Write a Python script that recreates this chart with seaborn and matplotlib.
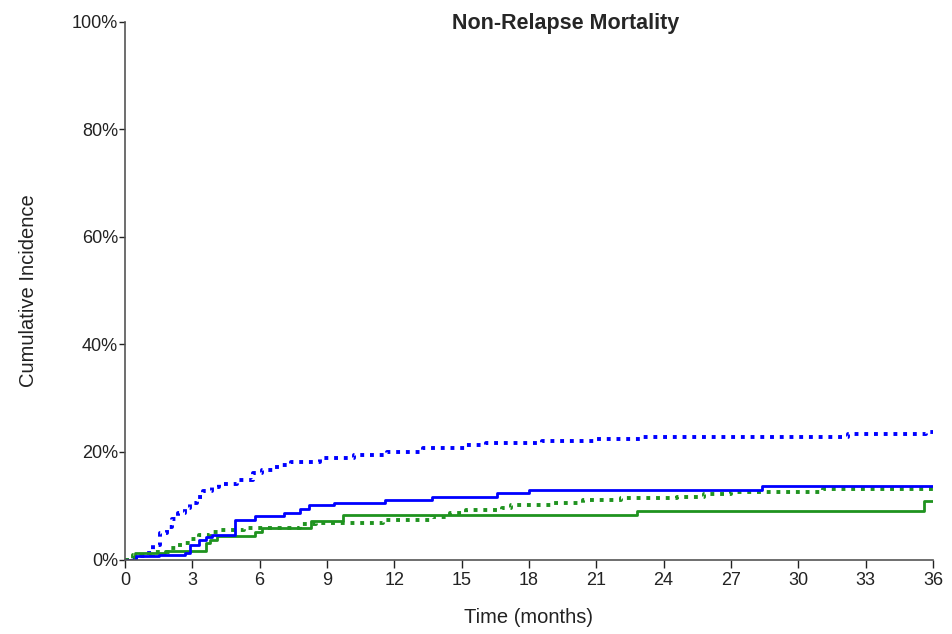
import numpy as np
import pandas as pd
import seaborn as sns
import matplotlib.pyplot as plt

# step curves (months, cumulative incidence in %)
blue_solid_t = [0, 0.5, 1.5, 2.7, 2.9, 3.3, 3.6, 3.9, 4.9, 5.8, 7.1, 7.8, 8.2, 9.3, 11.6, 13.7, 16.6, 18.0, 28.4, 36]
blue_solid_y = [0, 0.6, 0.9, 1.2, 2.7, 3.6, 4.2, 4.6, 7.4, 8.1, 8.7, 9.4, 10.1, 10.5, 11.1, 11.6, 12.3, 12.9, 13.7, 13.7]

green_solid_t = [0, 0.45, 1.8, 3.6, 3.8, 4.1, 5.8, 6.1, 8.3, 9.7, 22.8, 35.6, 36]
green_solid_y = [0, 1.2, 1.6, 3.1, 3.6, 4.4, 5.1, 5.9, 7.2, 8.2, 9.0, 10.9, 10.9]

blue_dot_t = [0, 0.25, 0.5, 0.9, 1.25, 1.56, 1.87, 2.1, 2.36, 2.67, 2.9, 3.2, 3.5, 3.9, 4.2, 5.0, 5.7, 6.1,
              6.8, 7.4, 8.7, 10.2, 11.7, 13.3, 15.2, 16.1, 18.6, 21.0, 23.1, 32.2, 35.7, 36]
blue_dot_y = [0, 0.3, 0.6, 1.2, 2.7, 4.9, 6.1, 7.5, 8.7, 9.6, 10.5, 11.6, 12.8, 13.5, 14.1, 14.8, 16.1, 16.7,
              17.6, 18.2, 18.9, 19.5, 20.0, 20.8, 21.3, 21.7, 22.1, 22.4, 22.8, 23.4, 23.7, 23.7]

green_dot_t = [0, 0.36, 1.25, 2.0, 2.45, 2.9, 3.3, 3.8, 4.2, 5.3, 7.8, 8.5, 11.5, 13.7, 14.5, 15.2,
               16.8, 17.2, 19.1, 20.4, 22.1, 24.6, 25.8, 27.0, 31.1, 36]
green_dot_y = [0, 0.8, 1.4, 2.1, 3.1, 3.8, 4.6, 5.1, 5.5, 5.9, 6.6, 6.8, 7.4, 7.9, 8.7, 9.2,
               9.6, 10.1, 10.5, 11.1, 11.5, 11.6, 12.2, 12.6, 13.1, 13.1]

x_ticks = list(range(0, 37, 3))
y_ticks = [0, 20, 40, 60, 80, 100]

blue = '#0000ff'
green = '#1f931f'

sns.set_style('white')
plt.rcParams['font.family'] = ['Liberation Sans', 'DejaVu Sans']

fig = plt.figure(figsize=(9.53, 6.34), dpi=100)
ax = fig.add_axes([0.131, 0.1175, 0.848, 0.848])

curves = [
    (blue_dot_t, blue_dot_y, blue, (0, (1, 1.5)), 2.8),
    (green_dot_t, green_dot_y, green, (0, (1, 1.5)), 2.8),
    (green_solid_t, green_solid_y, green, '-', 2.0),
    (blue_solid_t, blue_solid_y, blue, '-', 2.0),
]
for t, y, c, ls, lw in curves:
    df = pd.DataFrame({'t': t, 'y': y})
    sns.lineplot(data=df, x='t', y='y', ax=ax, color=c, linestyle=ls, linewidth=lw,
                 drawstyle='steps-post', estimator=None, sort=False)

ax.set_xlim(0, 36)
ax.set_ylim(0, 100)
ax.set_xticks(x_ticks)
ax.set_yticks(y_ticks)
ax.set_yticklabels([f'{v}%' for v in y_ticks])
ax.tick_params(axis='both', labelsize=13, colors='#222222', direction='out', left=True, bottom=True)
ax.tick_params(axis='x', length=6, width=1, pad=3)
ax.tick_params(axis='y', length=4, width=1, pad=1)
for s in ['top', 'right']:
    ax.spines[s].set_visible(False)
for s in ['left', 'bottom']:
    ax.spines[s].set_color('#555555')
    ax.spines[s].set_linewidth(1.2)

ax.set_xlabel('Time (months)', fontsize=14.5, color='#222222', labelpad=14)
ax.set_ylabel('Cumulative Incidence', fontsize=14.5, color='#222222', labelpad=24)
fig.text(0.593, 0.963, 'Non-Relapse Mortality', fontsize=15.5, fontweight='bold',
         ha='center', va='center')

fig.savefig('out.png', dpi=100)
